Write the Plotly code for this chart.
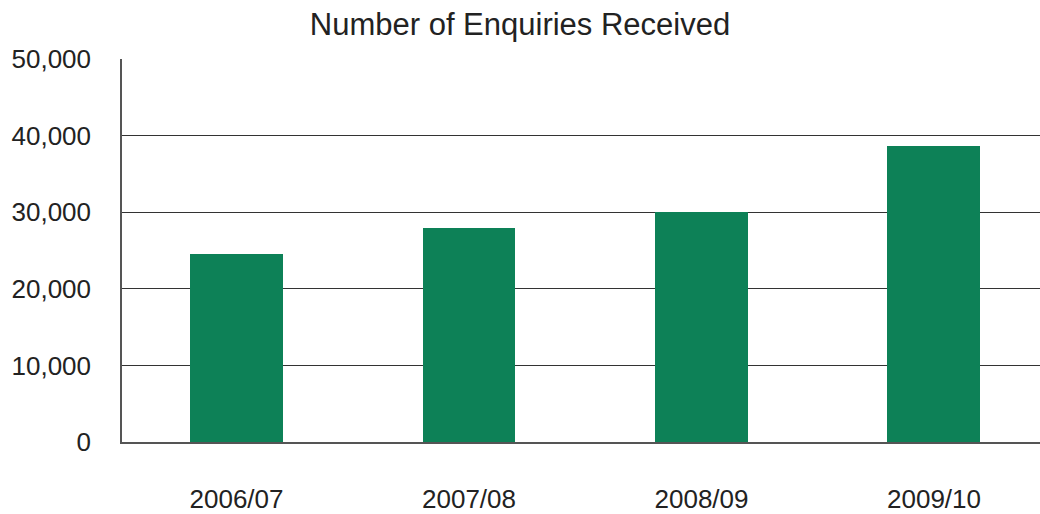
import plotly.graph_objects as go

categories = ["2006/07", "2007/08", "2008/09", "2009/10"]
enquiries = [24500, 28000, 30000, 38700]
y_ticks = [0, 10000, 20000, 30000, 40000, 50000]
y_tick_labels = ["0", "10,000", "20,000", "30,000", "40,000", "50,000"]

fig = go.Figure(go.Bar(
    x=list(range(len(categories))), y=enquiries,
    marker=dict(color="#0d8157", line=dict(width=0)),
    width=0.40,
))

fig.update_layout(
    width=1040, height=514,
    margin=dict(l=122, r=0, t=59, b=69),
    paper_bgcolor="white", plot_bgcolor="white",
    font=dict(family="Liberation Sans, Arial, sans-serif", color="#222", size=26),
    title=dict(text="Number of Enquiries Received", x=0.5, xanchor="center",
               y=1 - 24 / 514, yanchor="middle", font=dict(size=31, color="#222")),
    showlegend=False,
    bargap=0,
)
fig.update_xaxes(
    tickmode="array", tickvals=list(range(len(categories))), ticktext=categories,
    range=[-0.4925, 3.456], showgrid=False, zeroline=False,
    showline=True, linecolor="#555", linewidth=1.5,
    ticks="", ticklabelstandoff=33, tickfont=dict(size=26),
)
fig.update_yaxes(
    tickmode="array", tickvals=y_ticks, ticktext=y_tick_labels,
    range=[0, 50000], showgrid=True, gridcolor="#333", gridwidth=1,
    zeroline=False, showline=True, linecolor="#555", linewidth=1.5,
    ticks="", ticklabelstandoff=24, tickfont=dict(size=26),
)

fig.write_html("out.html")
